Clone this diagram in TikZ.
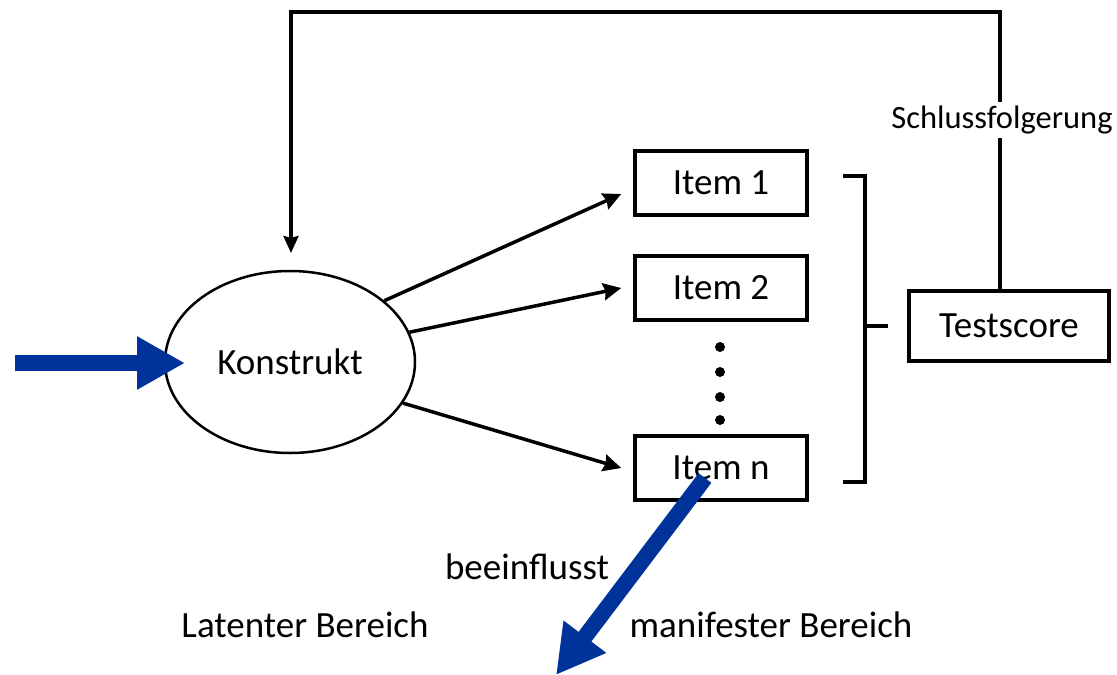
\documentclass[tikz,border=0pt]{standalone}
\usepackage{fontspec}
\setmainfont{Carlito}
\usetikzlibrary{arrows.meta,shapes.geometric}
\definecolor{bluearr}{HTML}{003399}
\tikzset{
  txt/.style={font=\fontsize{37}{40}\selectfont},
  itembox/.style={draw,line width=3.5pt,minimum width=172pt,minimum height=64pt,inner sep=0pt,txt},
  lbl/.style={txt,inner sep=0pt},
  conn/.style={line width=3.5pt,-{Stealth[length=18pt,width=17pt,inset=2pt]}},
  fat/.style={bluearr,line width=16pt,-{Triangle[length=48pt,width=50pt]}},
}
\begin{document}
\begin{tikzpicture}[x=1pt,y=-1pt]
\useasboundingbox (0,0) rectangle (1117,675);
\node[ellipse,draw,line width=2.5pt,minimum width=250pt,minimum height=182pt,inner sep=0pt,txt] (k) at (290,362) {Konstrukt};
\node[itembox] (i1) at (721,183) {Item 1};
\node[itembox] (i2) at (721,288) {Item 2};
\node[itembox] (in) at (721,468) {Item n};
\node[draw,line width=3.5pt,minimum width=200pt,minimum height=70pt,inner sep=0pt,txt] (ts) at (1009,326) {Testscore};
\foreach \y in {347,372,397,420} \fill (720,\y) circle (5pt);
% brace
\draw[line width=3.5pt] (843,176) -- (865,176) -- (865,482) -- (843,482);
\draw[line width=3.5pt] (865,326) -- (888,326);
% feedback
\coordinate (c1) at (1000,12);
\coordinate (c2) at (291,12);
\coordinate (kt) at (291,253);
\draw[line width=3.5pt,-{Stealth[length=17pt,width=15pt,inset=2pt]}] (ts.north -| c1) -- (c1) -- (c2) -- (kt);
\node[lbl,fill=white,inner sep=4pt,font=\fontsize{32.5}{36}\selectfont] (sf) at (1002,120) {Schlussfolgerung};
% connectors
\draw[conn] (k.33) -- ([xshift=-12pt,yshift=-11pt]i1.west);
\draw[conn] (k.14) -- ([xshift=-12pt]i2.west);
\draw[conn] (k.-20) -- ([xshift=-12pt]in.west);
% blue arrows
\coordinate (b0) at (15,363);
\coordinate (b0e) at (185,363);
\draw[fat] (b0) -- (b0e);
\coordinate (b1) at (705,478);
\coordinate (b2) at (556,675);
\draw[fat] (b1) -- (b2);
\node[lbl] (bf) at (527,567) {beeinflusst};
\node[lbl] (lb) at (305,625) {Latenter Bereich};
\node[lbl] (mb) at (771,625) {manifester Bereich};
\end{tikzpicture}
\end{document}
